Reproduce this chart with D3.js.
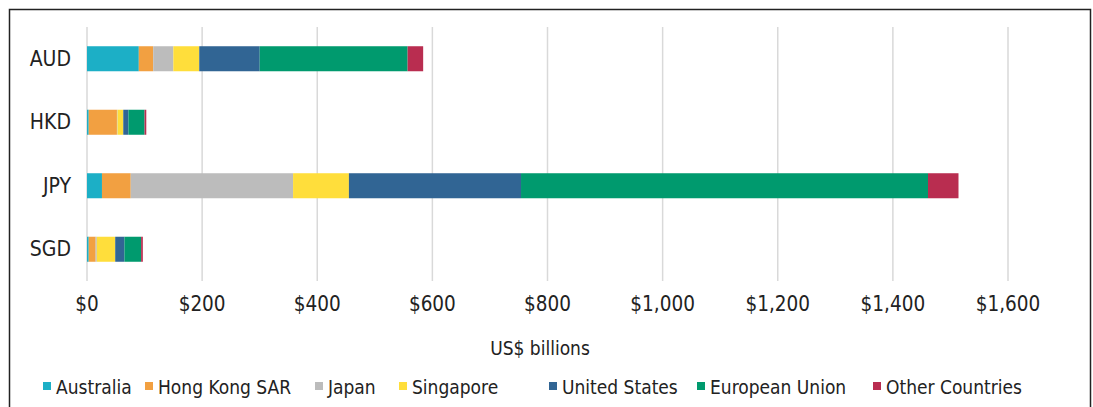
<!DOCTYPE html>
<html><head><meta charset="utf-8">
<script src="https://cdn.jsdelivr.net/npm/d3@7"></script>
<style>
html,body{margin:0;padding:0;background:#fff;}
svg text{font-family:"Liberation Sans Narrow","DejaVu Sans Condensed","Roboto",sans-serif;fill:#222;}
</style></head>
<body><svg id="chart" width="1093" height="407"></svg>
<script>
const categories = ["AUD", "HKD", "JPY", "SGD"];
const seriesNames = ["Australia", "Hong Kong SAR", "Japan", "Singapore", "United States", "European Union", "Other Countries"];
const australia   = [90, 3, 26, 3];
const hongKong    = [25, 49, 50, 12];
const japan       = [35, 1, 282, 2];
const singapore   = [45, 10, 97, 32];
const unitedStates= [105, 9, 299, 16];
const europeanUnion=[257, 28, 707, 29];
const otherCountries=[27, 3, 53, 3];
const tickValues = [0, 200, 400, 600, 800, 1000, 1200, 1400, 1600];
const axisTitle = "US$ billions";

const colors = ["#1cafc6", "#f2a041", "#bcbcbc", "#ffde3b", "#316594", "#009a6e", "#b92d50"];
const seriesValues = [australia, hongKong, japan, singapore, unitedStates, europeanUnion, otherCountries];

const rows = categories.map((c, i) => {
  const r = {cat: c};
  seriesNames.forEach((s, j) => r[s] = seriesValues[j][i]);
  return r;
});

const svg = d3.select("#chart");
// border
svg.append("rect").attr("x", 9.5).attr("y", 9.5).attr("width", 1081).attr("height", 420)
  .attr("fill", "none").attr("stroke", "#222").attr("stroke-width", 1.5);

const x = d3.scaleLinear().domain([0, 1600]).range([87, 1008]);
const y = d3.scaleBand().domain(categories).range([27, 281]).paddingInner(0.606).paddingOuter(0.303);

// gridlines
svg.append("g").selectAll("line").data(tickValues).join("line")
  .attr("x1", d => x(d)).attr("x2", d => x(d))
  .attr("y1", 27).attr("y2", 281)
  .attr("stroke", "#d9d9d9").attr("stroke-width", 1.5);

const stack = d3.stack().keys(seriesNames)(rows);
svg.append("g").selectAll("g").data(stack).join("g")
  .attr("fill", (d, i) => colors[i])
  .selectAll("rect").data(d => d).join("rect")
  .attr("x", d => x(d[0]))
  .attr("width", d => Math.max(0, x(d[1]) - x(d[0])))
  .attr("y", d => y(d.data.cat))
  .attr("height", y.bandwidth());

// category labels
svg.append("g").selectAll("text").data(categories).join("text")
  .attr("x", 71).attr("y", d => y(d) + y.bandwidth() / 2)
  .attr("text-anchor", "end").attr("dominant-baseline", "central")
  .attr("font-size", 21).text(d => d);

// x axis tick labels
const fmt = d => "$" + d3.format(",")(d);
svg.append("g").selectAll("text").data(tickValues).join("text")
  .attr("x", d => x(d)).attr("y", 311)
  .attr("text-anchor", "middle").attr("font-size", 20.5).text(fmt);

svg.append("text").attr("x", 540).attr("y", 355).attr("text-anchor", "middle")
  .attr("font-size", 19).text(axisTitle);

// legend
const legendX = [43, 145, 315, 399, 549, 697, 873];
const lg = svg.append("g").selectAll("g").data(seriesNames).join("g")
  .attr("transform", (d, i) => `translate(${legendX[i]},0)`);
lg.append("rect").attr("x", 0).attr("y", 382).attr("width", 8).attr("height", 8)
  .attr("fill", (d, i) => colors[i]);
lg.append("text").attr("x", 13).attr("y", 394).attr("font-size", 19).text(d => d);
</script></body></html>
